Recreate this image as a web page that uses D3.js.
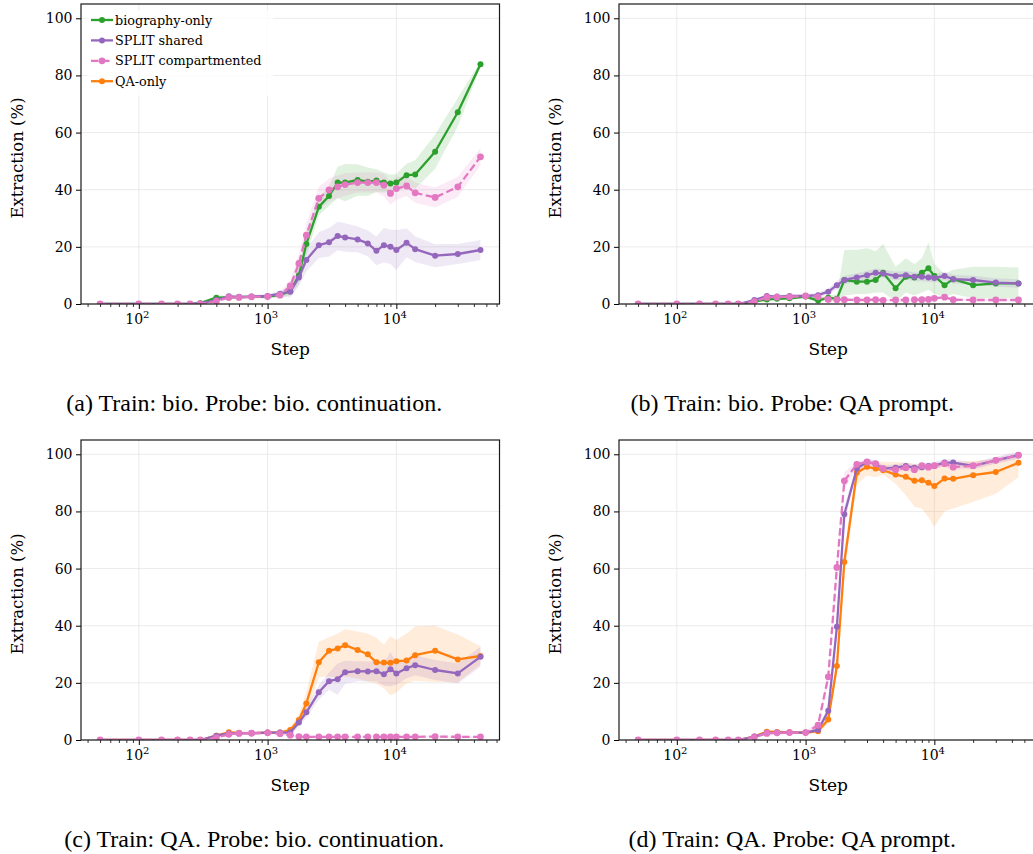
<!DOCTYPE html>
<html>
<head>
<meta charset="utf-8">
<script src="https://cdn.jsdelivr.net/npm/d3@7"></script>
<style>
  html, body { margin: 0; padding: 0; background: #fff; }
  svg { display: block; }
  .tick text { font-family: "DejaVu Serif", serif; }
</style>
</head>
<body>
<svg id="chart" width="1033" height="854"></svg>
<script>
// Training steps at which extraction was evaluated
const steps = [50, 100, 150, 200, 250, 300, 400, 500, 600, 750, 1000, 1250, 1500, 1750, 2000,
  2500, 3000, 3500, 4000, 5000, 6000, 7000, 8000, 9000, 10000, 12000, 14000, 20000, 30000, 45000];

const yTicks = [0, 20, 40, 60, 80, 100];
const xMajorTicks = [100, 1000, 10000];
const xTickExponents = ["2", "3", "4"];

const seriesNames = ["biography-only", "SPLIT shared", "SPLIT compartmented", "QA-only"];
const captions = [
  "(a) Train: bio. Probe: bio. continuation.",
  "(b) Train: bio. Probe: QA prompt.",
  "(c) Train: QA. Probe: bio. continuation.",
  "(d) Train: QA. Probe: QA prompt."
];

// (a) Train: bio, probe: bio continuation
const bioA = [0, 0, 0, 0, 0, 0.3, 2.2, 2.3, 2.4, 2.5, 2.6, 3.2, 4.5, 10, 21, 34, 37.8, 42.5, 42.5, 43.4, 42.8, 43.2, 42.5, 42.2, 42.5, 45.1, 45.3, 53.3, 67.1, 83.9];
const bioAErr = [0, 0, 0, 0, 0, 0.3, 0.8, 0.6, 0.5, 0.5, 0.6, 0.8, 1.5, 3, 4, 3, 3.5, 5.5, 6.5, 5.5, 5, 4, 3.5, 3, 3, 4, 5, 6, 5, 1];
const sharedA = [0, 0, 0, 0, 0, 0.2, 1.4, 2.7, 2.5, 2.6, 2.8, 3.6, 4.3, 9.3, 15.4, 20.6, 21.6, 23.8, 23.3, 22.6, 21.2, 18.6, 20.6, 20, 18.9, 21.4, 19.2, 16.9, 17.5, 18.9];
const sharedAErr = [0, 0, 0, 0, 0, 0.2, 0.5, 0.6, 0.5, 0.5, 0.6, 1, 2, 3, 4, 4.5, 5, 5, 5, 4.5, 4.5, 5, 6, 6, 7, 5, 4.5, 4, 3.5, 3.5];
const compA = [0, 0, 0, 0, 0, 0, 1, 2.3, 2.3, 2.5, 2.6, 3.1, 6.3, 14.2, 24.1, 37, 39.9, 41, 41.8, 42.5, 42.5, 42.5, 41.6, 38.7, 40.4, 41.3, 38.9, 37.3, 41, 51.5];
const compAErr = [0, 0, 0, 0, 0, 0, 0.5, 0.5, 0.5, 0.5, 0.5, 1, 2, 3, 4, 4, 4, 4, 4, 3.5, 3.5, 3.5, 4, 4, 4, 3.5, 3.5, 3.5, 3.5, 3];

// (b) Train: bio, probe: QA prompt
const bioB = [0, 0, 0, 0, 0, 0, 0.8, 1.6, 1.8, 2, 2.6, 1.2, 2.2, 1.8, 8.4, 7.8, 7.8, 8.4, 10.9, 5.5, 9.5, 9.3, 10.9, 12.5, 9.8, 6.6, 8.7, 6.6, 7.2, 7.2];
const bioBErrLo = [0, 0, 0, 0, 0, 0, 0.5, 0.5, 0.5, 0.5, 0.5, 0.8, 0.8, 1.5, 5.4, 4.3, 4.3, 4.4, 6.9, 4.5, 5.5, 6.3, 6.9, 7.5, 6.3, 4.1, 5.2, 4.6, 5.2, 5.2];
const bioBErrHi = [0, 0, 0, 0, 0, 0, 0.5, 0.5, 0.5, 0.5, 0.5, 0.8, 0.8, 1.5, 10.5, 11.2, 11.7, 10.1, 10.1, 7.5, 6.5, 4.7, 5.1, 9, 4.2, 3.9, 3.3, 6.4, 5.8, 5.6];
const sharedB = [0, 0, 0, 0, 0, 0, 1.4, 2.8, 2.6, 2.8, 2.8, 3.1, 4.3, 6.6, 8.4, 9.3, 10.1, 10.9, 10.7, 9.8, 10.1, 9.5, 9.5, 9.3, 9.1, 9.8, 8.7, 8.4, 7.5, 7.2];
const sharedBErr = [0, 0, 0, 0, 0, 0, 0.5, 0.5, 0.5, 0.5, 0.6, 0.8, 1, 1.5, 1.5, 1.5, 1.5, 1.5, 1.5, 1.5, 1.5, 1.5, 1.5, 1.5, 1.5, 1.5, 1.5, 1.5, 1.5, 1.5];
const compB = [0, 0, 0, 0, 0, 0, 0.8, 2.3, 2.4, 2.5, 2.8, 2.5, 1.6, 1.5, 1.5, 1.4, 1.4, 1.5, 1.3, 1.4, 1.4, 1.5, 1.5, 1.6, 2, 2.4, 1.5, 1.4, 1.4, 1.4];
const compBErr = [0, 0, 0, 0, 0, 0, 0.4, 0.4, 0.4, 0.4, 0.4, 0.4, 0.4, 0.4, 0.4, 0.4, 0.4, 0.4, 0.4, 0.4, 0.4, 0.4, 0.4, 0.4, 0.4, 0.4, 0.4, 0.4, 0.4, 0.4];

// (c) Train: QA, probe: bio continuation
const qaC = [0, 0, 0, 0, 0, 0, 1.5, 2.7, 2.5, 2.4, 2.6, 2.6, 3.5, 7, 12.8, 27.2, 31.2, 32, 33.2, 31.5, 30, 27.2, 27.1, 27, 27.6, 27.8, 29.7, 31.2, 28.2, 29.4];
const qaCErrLo = [0, 0, 0, 0, 0, 0, 0.5, 0.5, 0.5, 0.5, 0.5, 0.5, 1, 2, 3.8, 5.2, 9, 10, 11, 10, 9.5, 7.5, 9, 11.4, 11, 8, 9, 10.9, 8, 3];
const qaCErrHi = [0, 0, 0, 0, 0, 0, 0.5, 0.5, 0.5, 0.5, 0.5, 0.5, 1, 2, 4, 7.2, 4.8, 5.3, 5.6, 6.5, 7.3, 8.5, 6.3, 9.3, 7.4, 9.5, 10, 8.8, 8.7, 3.4];
const sharedC = [0, 0, 0, 0, 0, 0, 1.5, 2.3, 2.3, 2.4, 2.6, 2.6, 2.6, 6.1, 9.7, 16.7, 20.6, 21.3, 23.7, 24.1, 24, 24.1, 23, 24.8, 23.3, 25.1, 26.2, 24.5, 23.3, 29.1];
const sharedCErr = [0, 0, 0, 0, 0, 0, 0.5, 0.5, 0.5, 0.5, 0.5, 0.5, 1, 1.5, 2, 2.5, 3, 5.5, 4, 3.5, 3.5, 3.5, 4, 6, 4, 3.5, 3.5, 3.5, 3.5, 3.5];
const compC = [0, 0, 0, 0, 0, 0, 0.8, 2, 2.3, 2.4, 2.5, 2.2, 1.7, 1.2, 1.1, 1.1, 1.1, 1.1, 1.1, 1.1, 1.1, 1.1, 1.1, 1.1, 1.1, 1.1, 1.1, 1.2, 1.1, 1.1];
const compCErr = [0, 0, 0, 0, 0, 0, 0.4, 0.4, 0.4, 0.4, 0.4, 0.4, 0.4, 0.4, 0.4, 0.4, 0.4, 0.4, 0.4, 0.4, 0.4, 0.4, 0.4, 0.4, 0.4, 0.4, 0.4, 0.4, 0.4, 0.4];

// (d) Train: QA, probe: QA prompt
const qaD = [0, 0, 0, 0, 0, 0, 1.2, 2.9, 2.8, 2.7, 2.6, 3.1, 7.2, 25.9, 62.3, 93.5, 95.6, 95, 94.4, 92.9, 92.1, 90.7, 90.9, 90, 88.9, 91.5, 91.4, 92.7, 93.8, 97];
const qaDErrLo = [0, 0, 0, 0, 0, 0, 0.5, 0.5, 0.5, 0.5, 0.5, 0.8, 1.5, 3, 4, 4, 3, 3, 1.5, 3.2, 6.4, 9.1, 9.9, 12, 14.3, 11.4, 10.4, 9.4, 7.6, 5];
const qaDErrHi = [0, 0, 0, 0, 0, 0, 0.5, 0.5, 0.5, 0.5, 0.5, 0.8, 1.5, 3, 4, 2.5, 2, 2.3, 3, 4.4, 5, 6, 5.8, 6.5, 7.8, 5.5, 6, 5, 4.5, 2.5];
const sharedD = [0, 0, 0, 0, 0, 0, 1.2, 2.5, 2.6, 2.6, 2.6, 3.5, 10.2, 39.6, 79, 95, 97.3, 96.6, 95, 95.3, 95.9, 95.3, 95.5, 95.9, 96, 97.1, 97.1, 95.9, 97.9, 99.7];
const sharedDErr = [0, 0, 0, 0, 0, 0, 0.5, 0.5, 0.5, 0.5, 0.5, 0.8, 1.5, 3, 3, 1.2, 1.2, 1.2, 1.2, 1.2, 1.2, 1.2, 1.2, 1.2, 1.2, 1.2, 1.2, 1.2, 1.2, 1.2];
const compD = [0, 0, 0, 0, 0, 0, 1, 2.3, 2.5, 2.6, 2.6, 5.2, 22.1, 60.4, 90.7, 96.5, 97.3, 96.7, 95, 94.6, 95.3, 94.6, 96, 95.5, 96, 96.7, 95.5, 96, 97.9, 99.7];
const compDErr = [0, 0, 0, 0, 0, 0, 0.5, 0.5, 0.5, 0.5, 0.5, 1, 2, 4, 3, 1, 1, 1, 1, 1, 1, 1, 1, 1, 1, 1, 1, 1, 1, 1];

const colors = {
  "biography-only": "#2ca02c",
  "SPLIT shared": "#9467bd",
  "SPLIT compartmented": "#e377c2",
  "QA-only": "#ff7f0e"
};

const panels = [
  { left: 81, top: 4, caption: captions[0], legend: true, series: [
    { name: "biography-only", values: bioA, errLo: bioAErr, errHi: bioAErr },
    { name: "SPLIT shared", values: sharedA, errLo: sharedAErr, errHi: sharedAErr },
    { name: "SPLIT compartmented", values: compA, errLo: compAErr, errHi: compAErr } ] },
  { left: 619, top: 4, caption: captions[1], series: [
    { name: "biography-only", values: bioB, errLo: bioBErrLo, errHi: bioBErrHi },
    { name: "SPLIT shared", values: sharedB, errLo: sharedBErr, errHi: sharedBErr },
    { name: "SPLIT compartmented", values: compB, errLo: compBErr, errHi: compBErr } ] },
  { left: 81, top: 440, caption: captions[2], series: [
    { name: "QA-only", values: qaC, errLo: qaCErrLo, errHi: qaCErrHi },
    { name: "SPLIT shared", values: sharedC, errLo: sharedCErr, errHi: sharedCErr },
    { name: "SPLIT compartmented", values: compC, errLo: compCErr, errHi: compCErr } ] },
  { left: 619, top: 440, caption: captions[3], series: [
    { name: "QA-only", values: qaD, errLo: qaDErrLo, errHi: qaDErrHi },
    { name: "SPLIT shared", values: sharedD, errLo: sharedDErr, errHi: sharedDErr },
    { name: "SPLIT compartmented", values: compD, errLo: compDErr, errHi: compDErr } ] }
];

const W = 418.5, H = 300;
const svg = d3.select("#chart");
const serif = "'DejaVu Serif', serif";
const times = "'Liberation Serif', 'Times New Roman', serif";

// minor ticks on the log axis: 2..9 × each decade inside the domain
const xDomain = [35.56, 63240];
const xMinor = [];
for (let dec = 10; dec <= 10000; dec *= 10)
  for (let m = 2; m <= 9; m++) {
    const v = m * dec;
    if (v >= xDomain[0] && v <= xDomain[1]) xMinor.push(v);
  }

const lineW = 2.3, dotR = 3, dashDotR = 3.4, dash = "7.5,3.5";

panels.forEach((p, pi) => {
  const x = d3.scaleLog().domain(xDomain).range([0, W]);
  const y = d3.scaleLinear().domain([0, 105]).range([H, 0]);
  const g = svg.append("g").attr("transform", `translate(${p.left},${p.top})`);

  const clipId = "clip" + pi;
  g.append("clipPath").attr("id", clipId)
    .append("rect").attr("width", W).attr("height", H);

  // grid
  const grid = g.append("g").attr("stroke", "#e6e6e6").attr("stroke-width", 0.8);
  xMajorTicks.forEach(v => grid.append("line")
    .attr("x1", x(v)).attr("x2", x(v)).attr("y1", 0).attr("y2", H));
  yTicks.forEach(v => grid.append("line")
    .attr("x1", 0).attr("x2", W).attr("y1", y(v)).attr("y2", y(v)));

  const plot = g.append("g").attr("clip-path", `url(#${clipId})`);

  const area = d3.area()
    .x((d, i) => x(steps[i]))
    .y0(d => y(Math.max(0, d.lo)))
    .y1(d => y(d.hi));
  const line = d3.line().x((d, i) => x(steps[i])).y(d => y(d));

  // uncertainty bands
  p.series.forEach(s => {
    const band = s.values.map((v, i) => ({ lo: v - s.errLo[i], hi: v + s.errHi[i] }));
    plot.append("path").datum(band)
      .attr("d", area)
      .attr("fill", colors[s.name])
      .attr("fill-opacity", 0.15)
      .attr("stroke", "none");
  });

  // mean curves with markers
  p.series.forEach(s => {
    const dashed = s.name === "SPLIT compartmented";
    plot.append("path").datum(s.values)
      .attr("d", line)
      .attr("fill", "none")
      .attr("stroke", colors[s.name])
      .attr("stroke-width", lineW)
      .attr("stroke-dasharray", dashed ? dash : null)
      .attr("stroke-linejoin", "round");
    plot.append("g").selectAll("circle").data(s.values).join("circle")
      .attr("cx", (d, i) => x(steps[i]))
      .attr("cy", d => y(d))
      .attr("r", dashed ? dashDotR : dotR)
      .attr("fill", colors[s.name]);
  });

  // axes
  const yAxis = d3.axisLeft(y).tickValues(yTicks).tickSize(5).tickPadding(3.5);
  const ya = g.append("g").call(yAxis);
  ya.select(".domain").remove();
  ya.selectAll(".tick line").attr("stroke", "#000").attr("stroke-width", 1);
  ya.selectAll(".tick text").attr("font-size", 14).attr("fill", "#000");

  const xa = g.append("g").attr("transform", `translate(0,${H})`)
    .call(d3.axisBottom(x).tickValues(xMajorTicks).tickSize(5).tickPadding(5).tickFormat(() => ""));
  xa.select(".domain").remove();
  xa.selectAll(".tick line").attr("stroke", "#000").attr("stroke-width", 1);
  xa.selectAll(".tick text").each(function (d, i) {
    const t = d3.select(this).attr("font-size", 14).attr("fill", "#000").attr("dx", "-2");
    t.text("10");
    t.append("tspan").text(xTickExponents[i]).attr("font-size", 10).attr("dy", "-0.55em");
  });
  const xm = g.append("g").attr("transform", `translate(0,${H})`)
    .call(d3.axisBottom(x).tickValues(xMinor).tickSize(3).tickFormat(() => ""));
  xm.select(".domain").remove();
  xm.selectAll(".tick line").attr("stroke", "#000").attr("stroke-width", 0.8);

  // spines
  g.append("rect").attr("width", W).attr("height", H)
    .attr("fill", "none").attr("stroke", "#1a1a1a").attr("stroke-width", 1.2);

  // axis titles
  g.append("text")
    .attr("transform", `translate(${-63},${H / 2 + 4}) rotate(-90)`)
    .attr("text-anchor", "middle")
    .attr("dominant-baseline", "middle")
    .attr("font-family", serif).attr("font-size", 16.5)
    .text("Extraction (%)");
  g.append("text")
    .attr("x", W / 2).attr("y", H + 51)
    .attr("text-anchor", "middle")
    .attr("font-family", serif).attr("font-size", 17)
    .text("Step");

  // sub-figure caption
  svg.append("text")
    .attr("x", p.left + W / 2 - 36).attr("y", p.top + H + 107)
    .attr("text-anchor", "middle")
    .attr("font-family", times).attr("font-size", 24)
    .text(p.caption);

  // legend
  if (p.legend) {
    const lg = g.append("g").attr("transform", "translate(6,6)");
    lg.append("rect").attr("width", 186).attr("height", 86)
      .attr("fill", "#fff").attr("fill-opacity", 0.8);
    seriesNames.forEach((name, i) => {
      const yy = 10 + i * 20.4;
      const dashed = name === "SPLIT compartmented";
      lg.append("line").attr("x1", 4).attr("x2", 26).attr("y1", yy).attr("y2", yy)
        .attr("stroke", colors[name]).attr("stroke-width", lineW)
        .attr("stroke-dasharray", dashed ? dash : null);
      lg.append("circle").attr("cx", 15).attr("cy", yy).attr("r", dashed ? dashDotR : dotR)
        .attr("fill", colors[name]);
      lg.append("text").attr("x", 28).attr("y", yy)
        .attr("dominant-baseline", "central")
        .attr("font-family", serif).attr("font-size", 12.8)
        .text(name);
    });
  }
});
</script>
</body>
</html>
